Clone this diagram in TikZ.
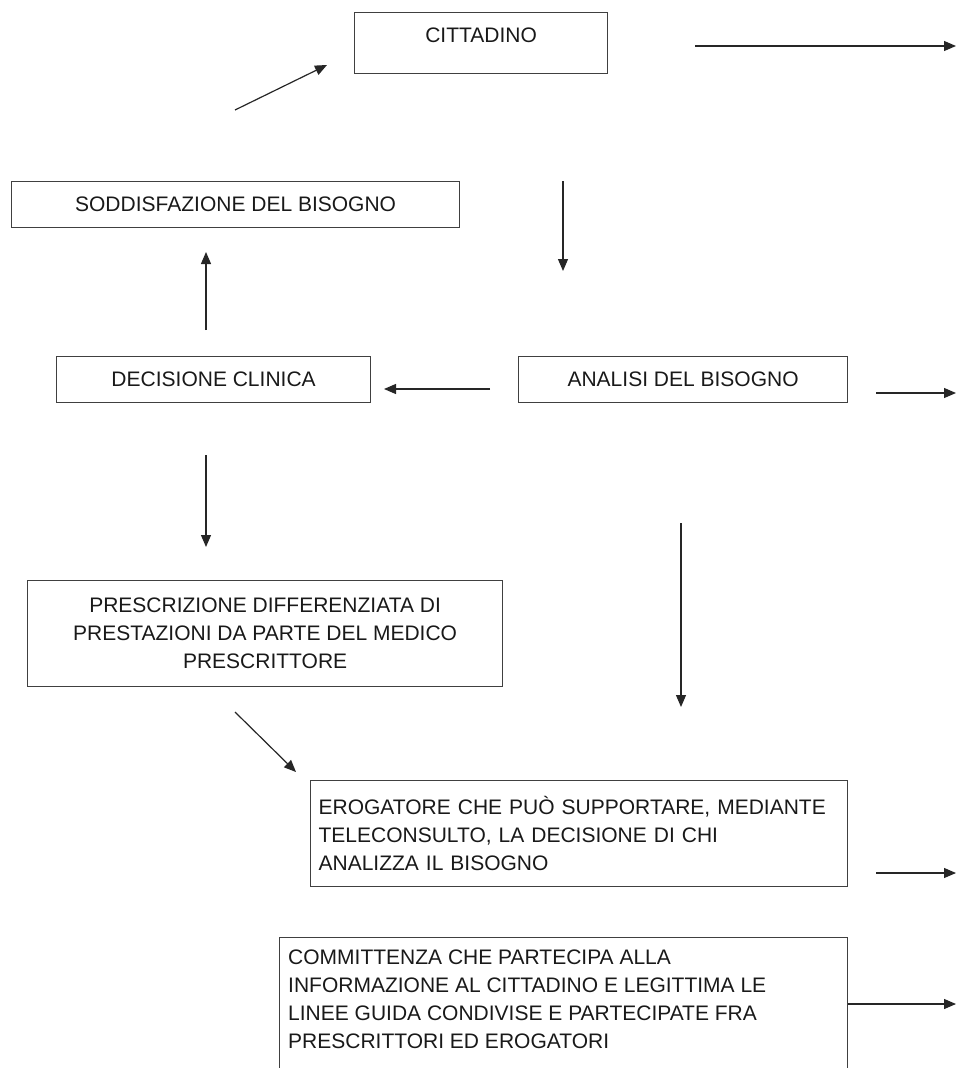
\documentclass[tikz,border=0pt]{standalone}
\usepackage{fontspec}
\setmainfont{Liberation Sans}
\usetikzlibrary{arrows.meta,calc}
\begin{document}
\begin{tikzpicture}[x=1pt,y=-1pt,
  box/.style={draw=black!75, line width=1.2pt, anchor=north west, inner sep=0pt},
  txt/.style={font=\fontsize{21}{28}\selectfont, text=black!90, inner sep=0pt},
  arr/.style={draw=black!85, line width=1.2pt, -{Triangle[length=12pt,width=10pt]}}]
\useasboundingbox (0,0) rectangle (956,1068);
\clip (0,0) rectangle (956,1068);

% boxes
\node[box, minimum width=253pt, minimum height=61pt] (cit) at (354,12) {};
\node[txt] (citt) at ($(cit.north)+(0,23)$) {CITTADINO};

\node[box, txt, minimum width=448pt, minimum height=46pt] (sod) at (11,181) {SODDISFAZIONE DEL BISOGNO};
\node[box, txt, minimum width=314pt, minimum height=46pt] (dec) at (56,356) {DECISIONE CLINICA};
\node[box, txt, minimum width=329pt, minimum height=46pt] (ana) at (518,356) {ANALISI DEL BISOGNO};
\node[box, txt, minimum width=475pt, minimum height=106pt, align=center] (pre) at (27,580)
  {PRESCRIZIONE DIFFERENZIATA DI\\PRESTAZIONI DA PARTE DEL MEDICO\\PRESCRITTORE};
\node[box, txt, minimum width=537pt, minimum height=106pt, align=left, text width=521pt] (ero) at (310,780)
  {EROGATORE CHE PUÒ SUPPORTARE, MEDIANTE\\TELECONSULTO, LA DECISIONE DI CHI\\ANALIZZA IL BISOGNO};
\node[box, minimum width=568pt, minimum height=160pt] (comm) at (279,937) {};
\node[txt, anchor=north west, align=left] (commt) at ($(comm.north west)+(9,13)$)
  {COMMITTENZA CHE PARTECIPA ALLA\\INFORMAZIONE AL CITTADINO E LEGITTIMA LE\\LINEE GUIDA CONDIVISE E PARTECIPATE FRA\\PRESCRITTORI ED EROGATORI};

% arrow end points
\coordinate (a1s) at (695,46);  \coordinate (a1e) at (956,46);
\coordinate (a2s) at (235,110); \coordinate (a2e) at (327,65);
\coordinate (a3s) at (563,181); \coordinate (a3e) at (563,271);
\coordinate (a4s) at (206,330); \coordinate (a4e) at (206,252);
\coordinate (a5s) at (490,389); \coordinate (a5e) at (384,389);
\coordinate (a6s) at (876,393); \coordinate (a6e) at (956,393);
\coordinate (a7s) at (206,455); \coordinate (a7e) at (206,547);
\coordinate (a8s) at (681,523); \coordinate (a8e) at (681,707);
\coordinate (a9s) at (235,712); \coordinate (a9e) at (296,772);
\coordinate (a10s) at (876,873); \coordinate (a10e) at (956,873);
\coordinate (a11e) at (956,1004);

\draw[arr] (a1s) -- (a1e);
\draw[arr] (a2s) -- (a2e);
\draw[arr] (a3s) -- (a3e);
\draw[arr] (a4s) -- (a4e);
\draw[arr] (a5s) -- (a5e);
\draw[arr] (a6s) -- (a6e);
\draw[arr] (a7s) -- (a7e);
\draw[arr] (a8s) -- (a8e);
\draw[arr] (a9s) -- (a9e);
\draw[arr] (a10s) -- (a10e);
\draw[arr] ($(comm.north east)+(0,67)$) -- (a11e);
\end{tikzpicture}
\end{document}
